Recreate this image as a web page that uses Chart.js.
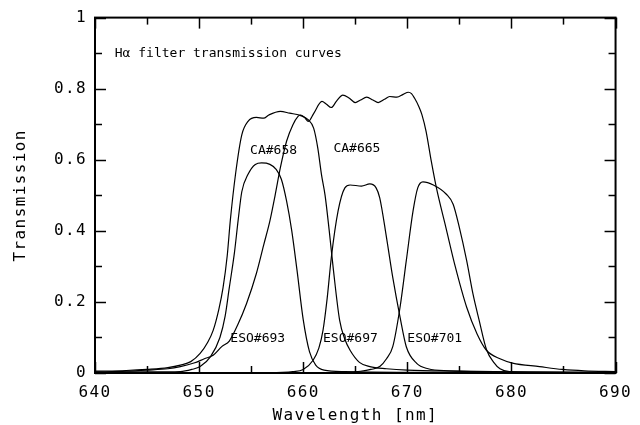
<!DOCTYPE html>
<html>
<head>
<meta charset="utf-8">
<script src="https://cdn.jsdelivr.net/npm/chart.js@4/dist/chart.umd.min.js"></script>
<style>
html, body { margin: 0; padding: 0; background: #fff; }
</style>
</head>
<body>
<canvas id="chart" width="640" height="425"></canvas>
<script>
// wavelength (nm) / transmission pairs
const ca658Wl = [640, 643, 645, 647, 648.2, 649.2, 650.1, 650.8, 651.35, 651.9, 652.3, 652.7, 653.0, 653.5, 654.1, 654.7, 655.5, 656.2, 656.7, 657.8, 658.7, 659.7, 660.5, 661.0, 661.4, 661.75, 662.1, 662.5, 662.9, 663.5, 664.0, 664.5, 665.4, 666.4, 668, 670, 675, 680, 690];
const ca658T  = [0.005, 0.007, 0.010, 0.015, 0.022, 0.032, 0.055, 0.085, 0.12, 0.18, 0.24, 0.33, 0.43, 0.56, 0.67, 0.708, 0.719, 0.717, 0.726, 0.736, 0.731, 0.725, 0.712, 0.689, 0.633, 0.559, 0.50, 0.40, 0.29, 0.148, 0.095, 0.064, 0.03, 0.018, 0.012, 0.008, 0.005, 0.003, 0.002];

const ca665Wl = [640, 643, 645, 647, 648.2, 649.5, 650.5, 651.35, 652.2, 652.9, 653.7, 654.55, 655.5, 656.2, 656.8, 657.3, 657.8, 658.4, 659.0, 659.5, 659.75, 660.1, 660.5, 661.0, 661.8, 662.2, 662.7, 663.2, 663.8, 664.4, 665.0, 665.5, 666.1, 666.7, 667.2, 667.8, 668.3, 669.0, 669.6, 670.1, 670.4, 670.7, 671.1, 671.4, 671.8, 672.3, 672.8, 673.7, 674.6, 675.7, 676.7, 677.6, 678.9, 680.1, 682.7, 684.9, 687, 690];
const ca665T  = [0.003, 0.005, 0.008, 0.012, 0.018, 0.028, 0.04, 0.05, 0.075, 0.09, 0.135, 0.195, 0.28, 0.36, 0.428, 0.50, 0.577, 0.652, 0.698, 0.722, 0.726, 0.72, 0.708, 0.73, 0.764, 0.757, 0.747, 0.765, 0.782, 0.774, 0.761, 0.768, 0.776, 0.768, 0.761, 0.77, 0.778, 0.776, 0.784, 0.79, 0.786, 0.773, 0.75, 0.727, 0.68, 0.596, 0.52, 0.41, 0.30, 0.185, 0.11, 0.064, 0.04, 0.028, 0.018, 0.01, 0.006, 0.004];

const eso693Wl = [640, 645, 648.2, 649.3, 650.1, 651.1, 652.0, 652.5, 652.9, 653.4, 653.75, 654.1, 654.7, 655.4, 656.0, 656.8, 657.4, 657.9, 658.4, 658.9, 659.4, 660.0, 660.6, 661.2, 662, 664, 670, 690];
const eso693T  = [0.002, 0.003, 0.004, 0.01, 0.018, 0.046, 0.10, 0.16, 0.24, 0.34, 0.43, 0.51, 0.559, 0.587, 0.591, 0.587, 0.573, 0.545, 0.484, 0.40, 0.29, 0.15, 0.06, 0.022, 0.008, 0.004, 0.002, 0.001];

const eso697Wl = [640, 655, 658, 659, 660.0, 660.95, 661.5, 661.9, 662.3, 662.7, 663.35, 664.0, 664.5, 665.6, 666.4, 667.0, 667.35, 668.0, 668.6, 669.3, 669.9, 670.9, 672, 674, 678, 690];
const eso697T  = [0.001, 0.001, 0.002, 0.004, 0.01, 0.036, 0.07, 0.12, 0.21, 0.325, 0.456, 0.521, 0.529, 0.526, 0.532, 0.521, 0.493, 0.381, 0.269, 0.157, 0.074, 0.027, 0.012, 0.006, 0.003, 0.001];

const eso701Wl = [640, 660, 664, 665.5, 666.5, 667.35, 668.0, 668.6, 669.3, 669.9, 670.55, 671.0, 671.5, 672.5, 673.75, 674.4, 675.0, 675.7, 676.3, 676.9, 677.6, 678.3, 678.9, 679.8, 682, 690];
const eso701T  = [0.001, 0.001, 0.002, 0.005, 0.01, 0.018, 0.04, 0.074, 0.185, 0.316, 0.456, 0.521, 0.538, 0.529, 0.503, 0.475, 0.409, 0.316, 0.223, 0.148, 0.066, 0.03, 0.012, 0.004, 0.002, 0.001];

const xMajorTicks = [640, 650, 660, 670, 680, 690];
const xMinorTicks = [645, 655, 665, 675, 685];
const yMajorTicks = [0, 0.2, 0.4, 0.6, 0.8, 1];
const yMinorTicks = [0.1, 0.3, 0.5, 0.7, 0.9];

const noteText = ['H\u03b1 filter transmission curves', 'CA#658', 'CA#665', 'ESO#693', 'ESO#697', 'ESO#701'];
const noteX = [641.9, 654.9, 662.9, 653.0, 661.9, 670.0];
const noteY = [0.899, 0.627, 0.63, 0.098, 0.098, 0.098];

const xTitle = 'Wavelength [nm]';
const yTitle = 'Transmission';

const MONO = '"DejaVu Sans Mono", "Liberation Mono", monospace';

function pairs(xs, ys) {
    return xs.map((v, i) => ({ x: v, y: ys[i] }));
}

function curve(xs, ys) {
    return {
        data: pairs(xs, ys),
        showLine: true,
        borderColor: '#000',
        borderWidth: 1.2,
        pointRadius: 0,
        cubicInterpolationMode: 'monotone',
        fill: false
    };
}

const decorations = {
    id: 'decorations',
    beforeDraw(chart) {
        chart.ctx.letterSpacing = '1.4px';
    },
    afterDraw(chart) {
        const ctx = chart.ctx;
        const a = chart.chartArea;
        const x = chart.scales.x;
        const y = chart.scales.y;

        function seg(x1, y1, x2, y2) {
            ctx.beginPath();
            ctx.moveTo(x1, y1);
            ctx.lineTo(x2, y2);
            ctx.stroke();
        }

        ctx.save();
        ctx.strokeStyle = '#000';
        ctx.lineWidth = 1.5;
        xMajorTicks.forEach((v) => {
            let px = Math.round(x.getPixelForValue(v)) + 0.5;
            seg(px, a.bottom, px, a.bottom - 11);
            seg(px, a.top, px, a.top + 11);
        });
        xMinorTicks.forEach((v) => {
            let px = Math.round(x.getPixelForValue(v)) + 0.5;
            seg(px, a.bottom, px, a.bottom - 7);
            seg(px, a.top, px, a.top + 7);
        });
        yMajorTicks.forEach((v) => {
            let py = Math.round(y.getPixelForValue(v)) + 0.5;
            seg(a.left, py, a.left + 11, py);
            seg(a.right, py, a.right - 11, py);
        });
        yMinorTicks.forEach((v) => {
            let py = Math.round(y.getPixelForValue(v)) + 0.5;
            seg(a.left, py, a.left + 7, py);
            seg(a.right, py, a.right - 7, py);
        });

        ctx.lineWidth = 2;
        ctx.strokeRect(a.left, a.top, a.right - a.left, a.bottom - a.top);

        // axis titles
        ctx.fillStyle = '#000';
        ctx.font = '16px ' + MONO;
        ctx.letterSpacing = '1.4px';
        ctx.textAlign = 'center';
        ctx.textBaseline = 'alphabetic';
        ctx.fillText(xTitle, (a.left + a.right) / 2, 420);
        ctx.save();
        ctx.translate(25, (a.top + a.bottom) / 2);
        ctx.rotate(-Math.PI / 2);
        ctx.fillText(yTitle, 0, 0);
        ctx.restore();

        // in-plot notes
        ctx.font = '13px ' + MONO;
        ctx.letterSpacing = '0px';
        ctx.textAlign = 'left';
        ctx.textBaseline = 'middle';
        noteText.forEach((t, i) => {
            ctx.fillText(t, x.getPixelForValue(noteX[i]), y.getPixelForValue(noteY[i]));
        });
        ctx.restore();
        ctx.letterSpacing = '1.4px';
    }
};

new Chart(document.getElementById('chart'), {
    type: 'scatter',
    data: {
        datasets: [
            curve(ca658Wl, ca658T),
            curve(ca665Wl, ca665T),
            curve(eso693Wl, eso693T),
            curve(eso697Wl, eso697T),
            curve(eso701Wl, eso701T)
        ]
    },
    options: {
        responsive: false,
        animation: false,
        devicePixelRatio: 1,
        layout: { padding: { top: 16, right: 23, left: 0, bottom: 0 } },
        plugins: {
            legend: { display: false },
            tooltip: { enabled: false }
        },
        scales: {
            x: {
                type: 'linear',
                min: 640,
                max: 690,
                afterFit: (scale) => { scale.height = 52; },
                afterBuildTicks: (scale) => { scale.ticks = xMajorTicks.map((v) => ({ value: v })); },
                grid: { display: false, drawTicks: false },
                border: { display: false },
                ticks: {
                    padding: 10,
                    color: '#000',
                    font: { family: MONO, size: 16 },
                    maxRotation: 0
                }
            },
            y: {
                type: 'linear',
                min: 0,
                max: 1,
                afterFit: (scale) => { scale.width = 95; },
                afterBuildTicks: (scale) => { scale.ticks = yMajorTicks.map((v) => ({ value: v })); },
                grid: { display: false, drawTicks: false },
                border: { display: false },
                ticks: {
                    padding: 8,
                    color: '#000',
                    font: { family: MONO, size: 16 },
                    callback: (v) => String(Math.round(v * 10) / 10)
                }
            }
        }
    },
    plugins: [decorations]
});
</script>
</body>
</html>
